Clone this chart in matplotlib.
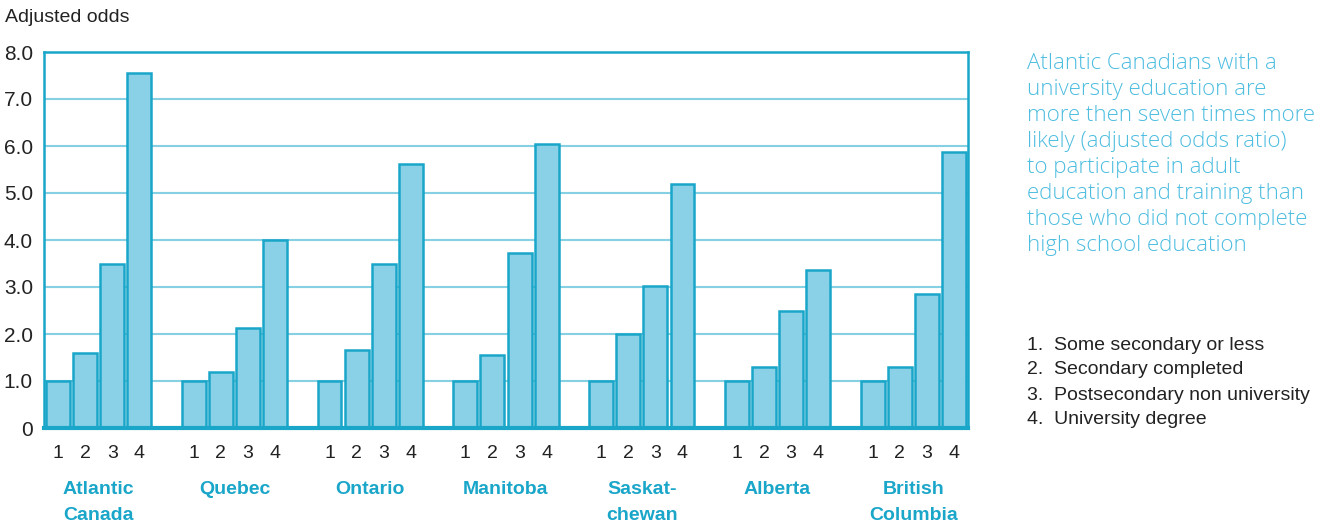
import matplotlib
matplotlib.use("Agg")
import matplotlib.pyplot as plt
from matplotlib import font_manager

regions = ["Atlantic\nCanada", "Quebec", "Ontario", "Manitoba", "Saskat-\nchewan", "Alberta", "British\nColumbia"]
levels = ["1", "2", "3", "4"]
some_secondary = [1.0, 1.0, 1.0, 1.0, 1.0, 1.0, 1.0]
secondary_completed = [1.6, 1.2, 1.67, 1.55, 2.0, 1.29, 1.29]
postsecondary = [3.5, 2.13, 3.5, 3.72, 3.03, 2.48, 2.86]
university = [7.55, 4.0, 5.62, 6.05, 5.2, 3.37, 5.88]
yticks = [0, 1, 2, 3, 4, 5, 6, 7, 8]
yticklabels = ["0", "1.0", "2.0", "3.0", "4.0", "5.0", "6.0", "7.0", "8.0"]
legend_items = ["1.  Some secondary or less", "2.  Secondary completed",
                "3.  Postsecondary non university", "4.  University degree"]
note = ("Atlantic Canadians with a\nuniversity education are\nmore then seven times more\n"
        "likely (adjusted odds ratio)\nto participate in adult\neducation and training than\n"
        "those who did not complete\nhigh school education")

names = {f.name for f in font_manager.fontManager.ttflist}
narrow = "Liberation Sans Narrow" if "Liberation Sans Narrow" in names else "Liberation Sans"

frame_c = "#19a6c9"
grid_c = "#86d0e4"
fill_c = "#8ad1e7"
text_c = "#1aa6c9"
note_c = "#4dbde0"
dark = "#222222"

fig = plt.figure(figsize=(13.23, 5.29), dpi=100)
ax = fig.add_axes([44/1323, 1-428/529, (968-44)/1323, (428-52)/529])

series = [some_secondary, secondary_completed, postsecondary, university]
group_step = 5.0
xs_all, labels_all = [], []
for i, s in enumerate(series):
    xs = [g*group_step + i for g in range(len(regions))]
    ax.bar(xs, s, width=0.88, color=fill_c, edgecolor=frame_c, linewidth=1.8, zorder=3)
    xs_all += xs
    labels_all += [levels[i]]*len(xs)

ax.set_xlim(-0.515, (len(regions)-1)*group_step + 3 + 0.515)
ax.set_ylim(0, 8)
ax.set_yticks(yticks)
ax.set_yticklabels(yticklabels, fontsize=15, family=narrow, color=dark)
ax.tick_params(axis="y", length=0, pad=8)
for y in yticks[1:-1]:
    ax.axhline(y, color=grid_c, linewidth=1.5, zorder=1)

ax.set_xticks(xs_all)
ax.set_xticklabels(labels_all, fontsize=14, family=narrow, color=dark)
ax.tick_params(axis="x", length=0, pad=12)

for g, name in enumerate(regions):
    ax.text(g*group_step + 1.5, -1.13, name, ha="center", va="top", fontsize=14,
            fontweight="bold", family=narrow, color=text_c, linespacing=1.68,
            transform=ax.transData)

for side in ["left", "right", "top"]:
    ax.spines[side].set_color(frame_c)
    ax.spines[side].set_linewidth(1.8)
ax.spines["bottom"].set_color(frame_c)
ax.spines["bottom"].set_linewidth(3)
ax.spines["bottom"].set_zorder(4)

fig.text(5/1323, 1-17/529, "Adjusted odds", fontsize=14, family=narrow, color=dark,
         ha="left", va="center")

fig.text(1027/1323, 1-53/529, note, fontsize=16, family="Open Sans", color=note_c,
         ha="left", va="top", linespacing=1.31, fontweight="light")

for k, item in enumerate(legend_items):
    fig.text(1027/1323, 1-(345 + 25*k)/529, item, fontsize=14, family=narrow,
             color=dark, ha="left", va="center")

fig.savefig("out.png", dpi=100)
